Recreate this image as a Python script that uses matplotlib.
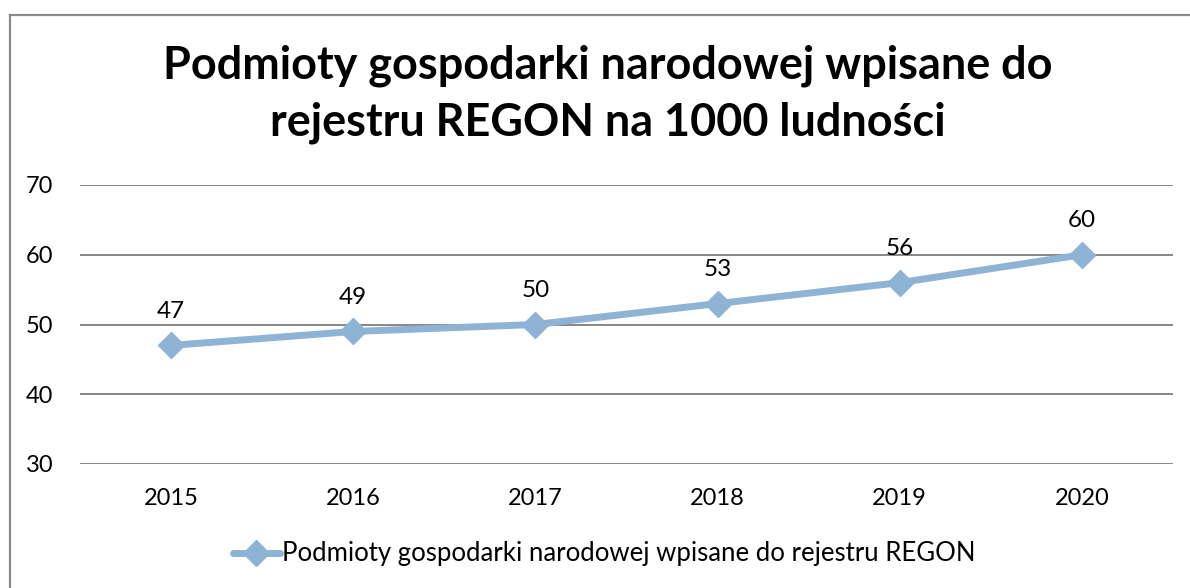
import matplotlib
matplotlib.use("Agg")
import matplotlib.pyplot as plt
from matplotlib.lines import Line2D

years = ["2015", "2016", "2017", "2018", "2019", "2020"]
values = [47, 49, 50, 53, 56, 60]
y_ticks = [30, 40, 50, 60, 70]
title = "Podmioty gospodarki narodowej wpisane do\nrejestru REGON na 1000 ludności"
series_name = "Podmioty gospodarki narodowej wpisane do rejestru REGON"

LINE_COLOR = "#8FB3D5"
GRID_COLOR = "#878787"
FONT = ["Lato", "DejaVu Sans"]

plt.rcParams["font.family"] = FONT

fig = plt.figure(figsize=(11.9, 5.88), dpi=100)
ax = fig.add_axes([80 / 1190, 1 - 464 / 588, (1173 - 80) / 1190, (464 - 185) / 588])

x = list(range(len(years)))
ax.plot(x, values, color=LINE_COLOR, linewidth=5, marker="D",
        markersize=13, markerfacecolor=LINE_COLOR, markeredgecolor=LINE_COLOR,
        solid_capstyle="round", zorder=3, clip_on=False)

for xi, v in zip(x, values):
    ax.annotate(str(v), (xi, v), xytext=(0, 17), textcoords="offset points",
                ha="center", va="bottom", fontsize=17.5, color="black")

ax.set_xlim(-0.5, len(years) - 0.5)
ax.set_ylim(30, 70)
ax.set_yticks(y_ticks)
ax.set_xticks(x)
ax.set_xticklabels(years)
ax.tick_params(axis="both", length=0, labelsize=17, colors="black")
ax.tick_params(axis="y", pad=19)
ax.tick_params(axis="x", pad=17)
for s in ax.spines.values():
    s.set_visible(False)
for t in y_ticks:
    ax.axhline(t, color=GRID_COLOR, linewidth=1.4, zorder=1)

fig.text(0.511, 1 - 94 / 588, title, ha="center", va="center",
         fontsize=32.4, fontweight="bold", linespacing=1.42)

# legend
handle = Line2D([0], [0], color=LINE_COLOR, linewidth=5, marker="D",
                markersize=13, solid_capstyle="round")
fig.legend(handles=[handle], labels=[series_name], loc="center",
           bbox_to_anchor=(0.508, 1 - 554 / 588), frameon=False, fontsize=18.5,
           handlelength=1.8, handletextpad=0.1)

# chart border (only top and left edges visible in the crop)
fig.add_artist(Line2D([9.5 / 1190, 9.5 / 1190], [0, 1 - 14.5 / 588],
                      transform=fig.transFigure, color="#8A8A8A", linewidth=1.6))
fig.add_artist(Line2D([9.5 / 1190, 1], [1 - 14.5 / 588, 1 - 14.5 / 588],
                      transform=fig.transFigure, color="#8A8A8A", linewidth=1.6))

fig.savefig("out.png", dpi=100)
